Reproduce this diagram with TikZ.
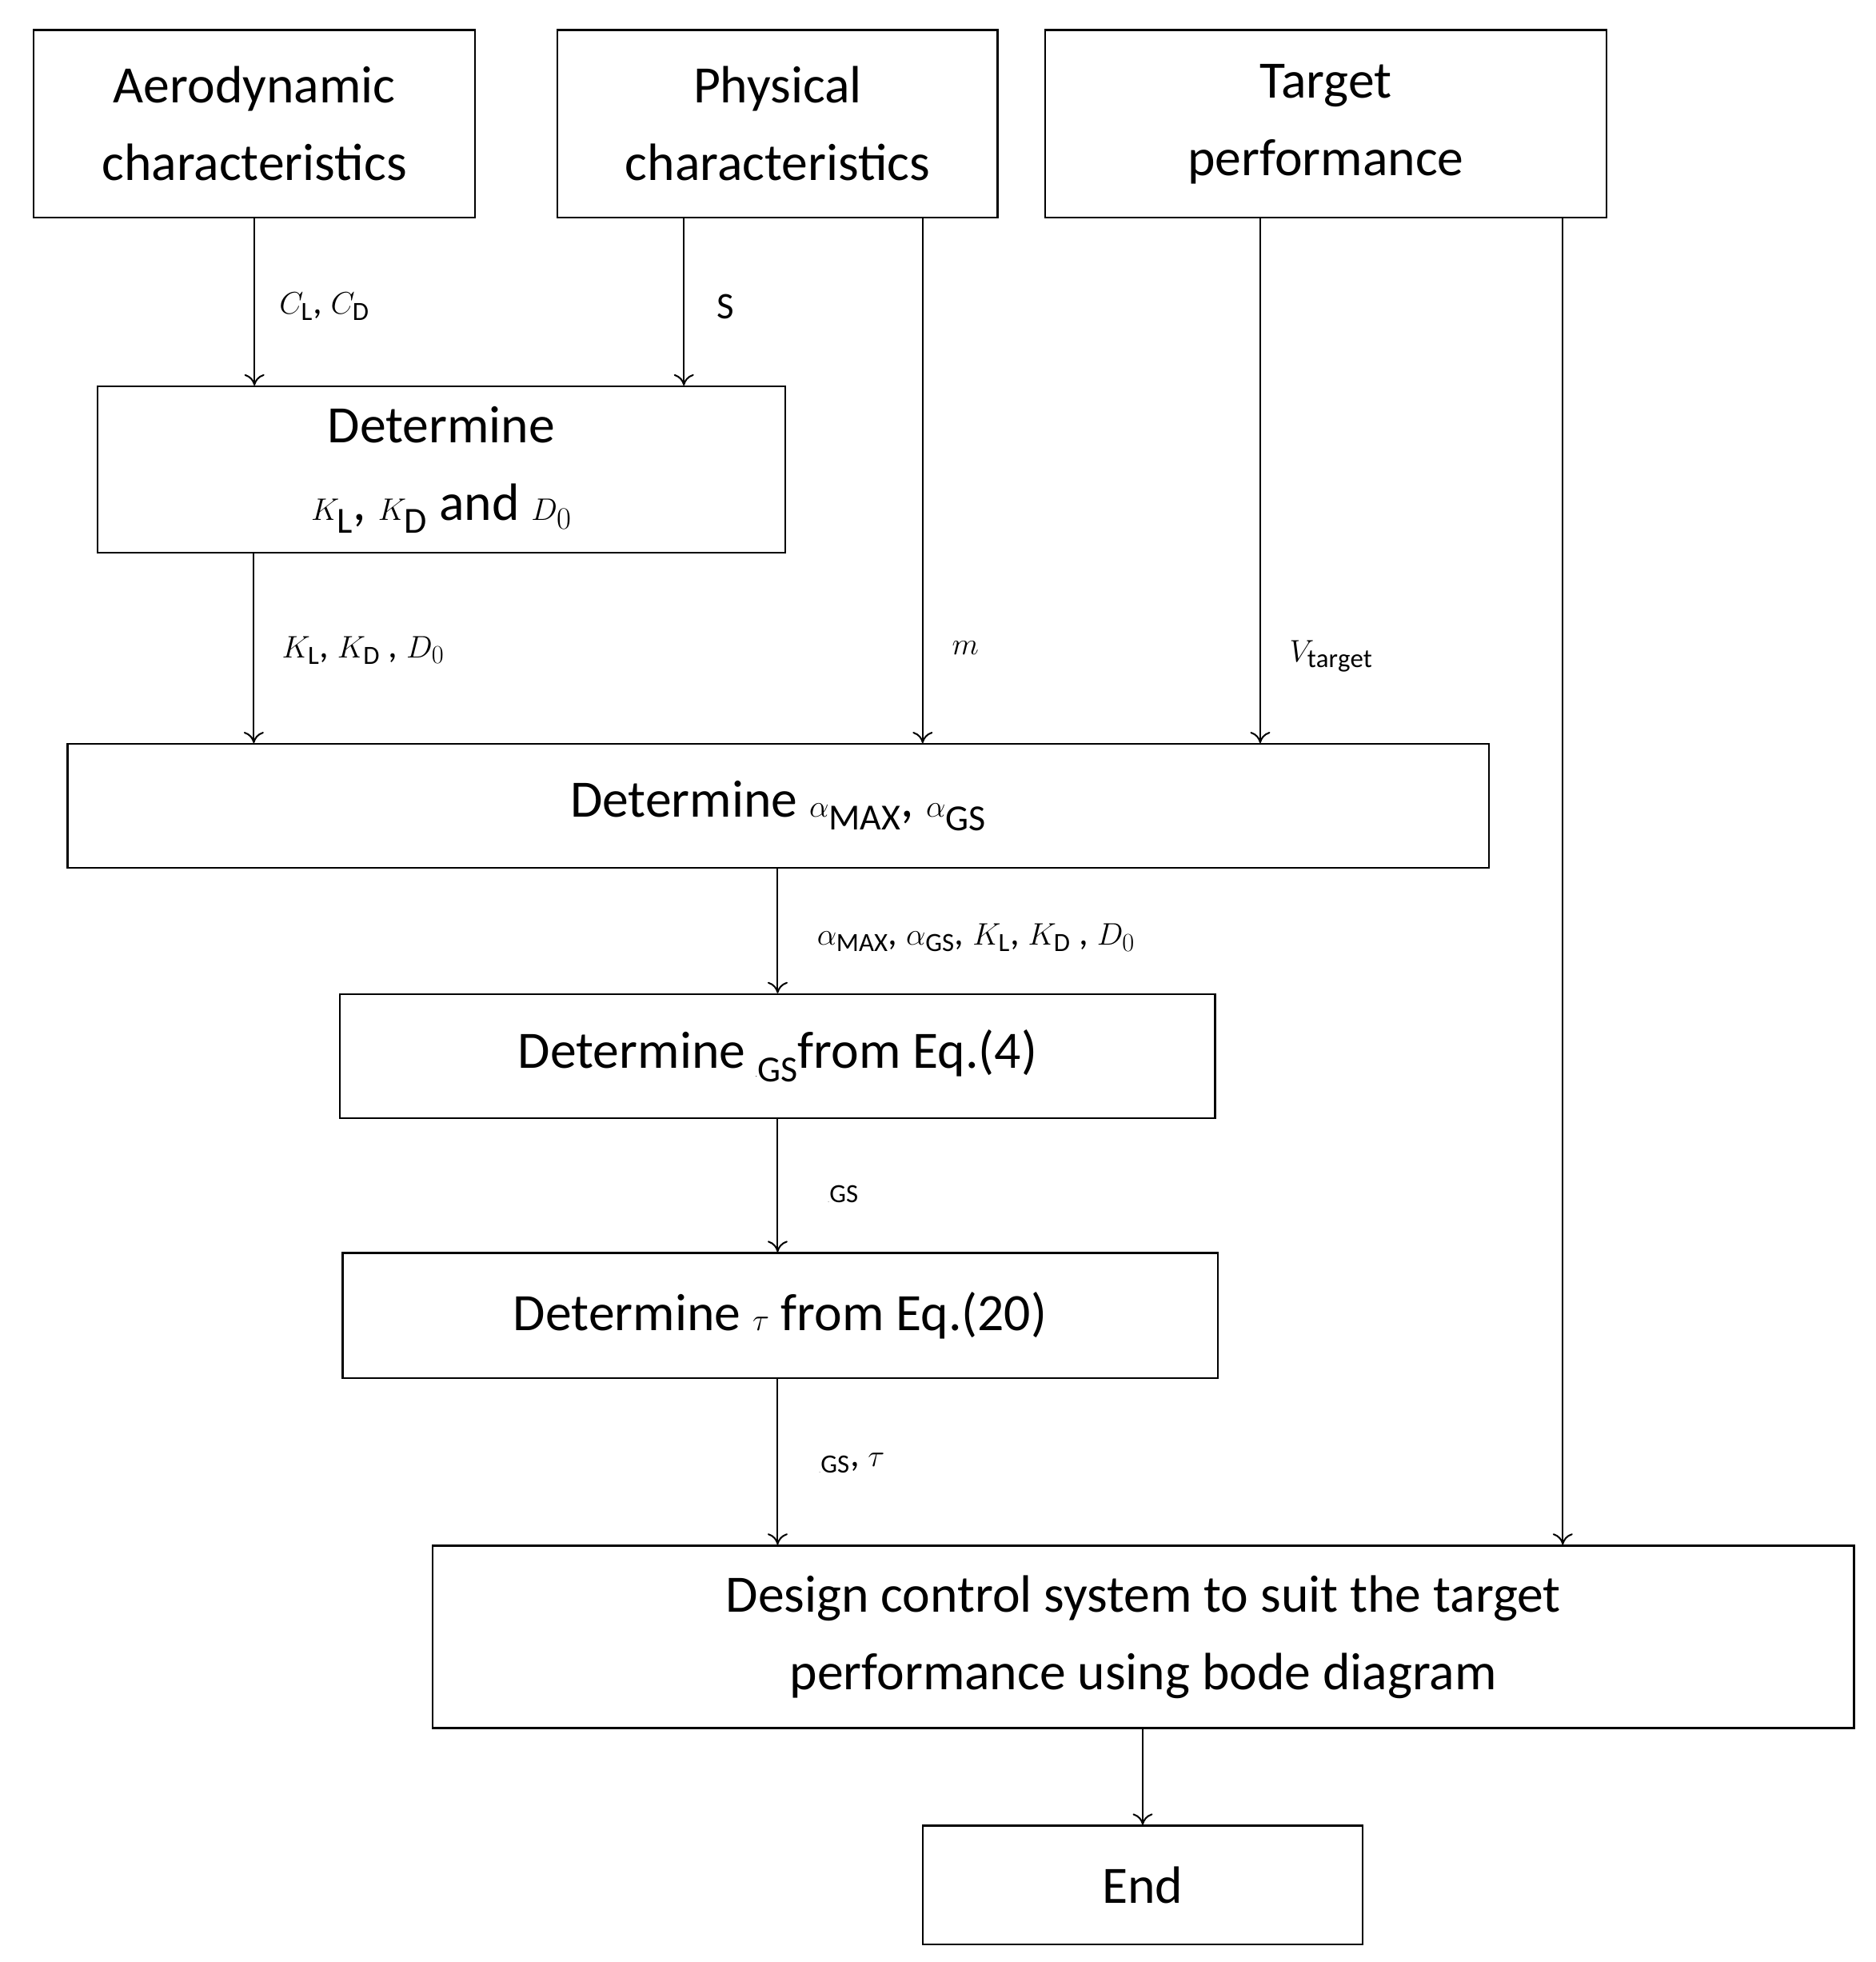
\documentclass[tikz,border=0pt]{standalone}
\usepackage{fontspec}
\setmainfont{Carlito}
\usetikzlibrary{arrows.meta}
\begin{document}
\begin{tikzpicture}[x=1pt,y=-1pt,
 box/.style={draw,line width=1.5pt,inner sep=0pt,align=center,font=\fontsize{42}{62}\selectfont},
 arr/.style={-{To[length=9pt,width=16pt]},line width=1.3pt},
 lab/.style={anchor=west,font=\fontsize{30}{36}\selectfont}]
\useasboundingbox (0,0) rectangle (1500,1569);
\node[box,minimum width=353pt,minimum height=150pt] (A) at (203.5,99) {Aerodynamic\\characteristics};
\node[box,minimum width=352pt,minimum height=150pt] (P) at (622,99) {Physical\\characteristics};
\node[box,minimum width=449pt,minimum height=150pt] (T) at (1060.5,99) {Target\\performance};
\node[box,minimum width=550pt,minimum height=133pt] (K) at (353,375.5) {Determine\\$K_{\mathrm{L}}$, $K_{\mathrm{D}}$ and $D_0$};
\node[box,minimum width=1137pt,minimum height=99pt] (AL) at (622.5,644.5) {Determine $\alpha_{\mathrm{MAX}}$, $\alpha_{\mathrm{GS}}$};
\node[box,minimum width=700pt,minimum height=99pt] (G) at (622,844.5) {Determine $\mathit{\Gamma}_{\mathrm{GS}}$from Eq.(4)};
\node[box,minimum width=700pt,minimum height=100pt] (TA) at (624,1052) {Determine $\tau$ from Eq.(20)};
\node[box,minimum width=1137pt,minimum height=146pt] (D) at (914.5,1309) {Design control system to suit the target\\performance using bode diagram};
\node[box,minimum width=352pt,minimum height=95pt] (E) at (914,1507.5) {End};
\draw[arr] (A.south) -- (A.south |- K.north);
\draw[arr] (P.south -| 547,0) -- (K.north -| 547,0);
\draw[arr] (P.south -| 738,0) -- (AL.north -| 738,0);
\draw[arr] (T.south -| 1008,0) -- (AL.north -| 1008,0);
\draw[arr] (T.south -| 1250,0) -- (D.north -| 1250,0);
\draw[arr] (K.south -| 203,0) -- (AL.north -| 203,0);
\draw[arr] (AL.south -| 622,0) -- (G.north -| 622,0);
\draw[arr] (G.south -| 622,0) -- (TA.north -| 622,0);
\draw[arr] (TA.south -| 622,0) -- (D.north -| 622,0);
\draw[arr] (D.south -| E.north) -- (E.north);
\node[lab] (l1) at (220,245) {$C_{\mathrm{L}}$, $C_{\mathrm{D}}$};
\node[lab] (l2) at (570,245) {S};
\node[lab] (l3) at (222,520) {$K_{\mathrm{L}}$, $K_{\mathrm{D}}$ , $D_0$};
\node[lab] (l4) at (758,518) {$m$};
\node[lab] (l5) at (1028,525) {$V_{\mathrm{target}}$};
\node[lab] (l6) at (650,750) {$\alpha_{\mathrm{MAX}}$, $\alpha_{\mathrm{GS}}$, $K_{\mathrm{L}}$, $K_{\mathrm{D}}$ , $D_0$};
\node[lab] (l7) at (660,955) {$\mathit{\Gamma}_{\mathrm{GS}}$};
\node[lab] (l8) at (653,1170) {$\mathit{\Gamma}_{\mathrm{GS}}$, $\tau$};
\end{tikzpicture}
\end{document}
